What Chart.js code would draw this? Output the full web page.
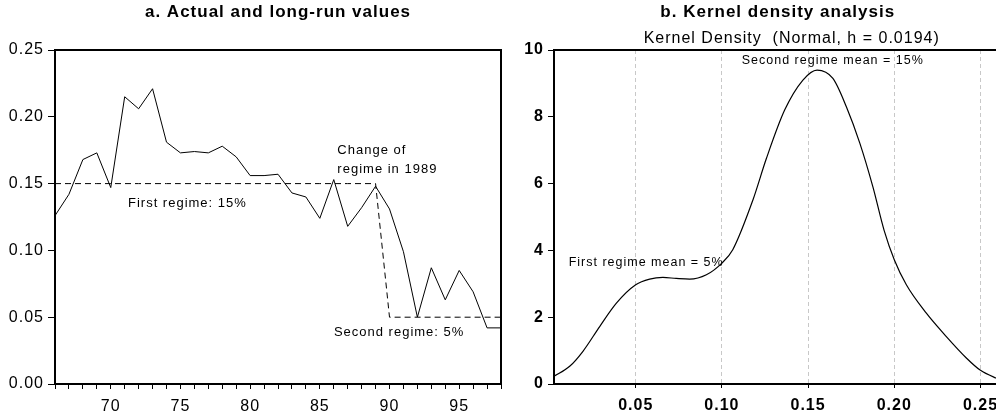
<!DOCTYPE html>
<html>
<head>
<meta charset="utf-8">
<title>Regimes and kernel density</title>
<script src="https://cdn.jsdelivr.net/npm/chart.js@4.4.1/dist/chart.umd.min.js"></script>
<style>
  html, body { margin: 0; padding: 0; background: #fff; overflow: hidden; width: 996px; height: 418px; }
  canvas { position: absolute; top: 0; }
  #chartA { left: 0; }
  #chartB { left: 505px; }
</style>
</head>
<body>
<canvas id="chartA" width="509" height="418"></canvas>
<canvas id="chartB" width="505" height="418"></canvas>
<script>
// ---------- panel a: actual and long-run values ----------
const years = [66, 67, 68, 69, 70, 71, 72, 73, 74, 75, 76, 77, 78, 79, 80, 81, 82,
               83, 84, 85, 86, 87, 88, 89, 90, 91, 92, 93, 94, 95, 96, 97, 98];
const actualValues = [0.126, 0.142, 0.168, 0.173, 0.147, 0.215, 0.206, 0.221, 0.181, 0.173, 0.174,
                      0.173, 0.178, 0.170, 0.156, 0.156, 0.157, 0.143, 0.140, 0.124, 0.153, 0.118,
                      0.132, 0.148, 0.131, 0.099, 0.050, 0.087, 0.063, 0.085, 0.069, 0.042, 0.042];
const regimeValues = [0.15, 0.15, 0.15, 0.15, 0.15, 0.15, 0.15, 0.15, 0.15, 0.15, 0.15,
                      0.15, 0.15, 0.15, 0.15, 0.15, 0.15, 0.15, 0.15, 0.15, 0.15, 0.15,
                      0.15, 0.15, 0.05, 0.05, 0.05, 0.05, 0.05, 0.05, 0.05, 0.05, 0.05];
const rateTicks = [0, 0.05, 0.10, 0.15, 0.20, 0.25];

// ---------- panel b: kernel density ----------
const kdeX = [0.0026, 0.0117, 0.0194, 0.0291, 0.0388, 0.0500, 0.0581, 0.0658, 0.0735, 0.0813,
              0.0910, 0.1000, 0.1063, 0.1180, 0.1258, 0.1364, 0.1470, 0.1552, 0.1644, 0.1722,
              0.1800, 0.1876, 0.1941, 0.2000, 0.2070, 0.2186, 0.2302, 0.2418, 0.2500, 0.2589, 0.2620];
const kdeY = [0.23, 0.53, 0.98, 1.72, 2.42, 2.97, 3.14, 3.19, 3.16, 3.14,
              3.27, 3.62, 4.02, 5.51, 6.75, 8.20, 9.10, 9.40, 9.15, 8.30,
              7.21, 5.90, 4.60, 3.72, 2.97, 2.12, 1.42, 0.78, 0.41, 0.18, 0.12];
const densityTicksX = [0.05, 0.10, 0.15, 0.20, 0.25];
const densityTicksY = [0, 2, 4, 6, 8, 10];

// text notes, anchored in data units
const notesA = [
  { text: 'First regime: 15%', x: 75.5, y: 0.1355, align: 'center' },
  { text: 'Change of', x: 86.26, y: 0.1746 },
  { text: 'regime in 1989', x: 86.26, y: 0.1606 },
  { text: 'Second regime: 5%', x: 90.69, y: 0.0385, align: 'center' }
];
const notesB = [
  { text: 'Kernel Density  (Normal, h = 0.0194)', x: 0.1405, y: 10.33, align: 'center', size: 16 },
  { text: 'Second regime mean = 15%', x: 0.1115, y: 9.67, size: 12.5 },
  { text: 'First regime mean = 5%', x: 0.0111, y: 3.63, size: 12.5 }
];

const FONT = "'Liberation Sans', Arial, sans-serif";
Chart.defaults.font.family = FONT;
Chart.defaults.color = '#000';

// eviews-style wide text
const spacing = {
  id: 'spacing',
  beforeUpdate(chart) { chart.ctx.letterSpacing = '1px'; },
  beforeDraw(chart) { chart.ctx.letterSpacing = '1px'; }
};

// top and right edge of the plot box
const frame = {
  id: 'frame',
  afterDatasetsDraw(chart) {
    const { ctx, chartArea: a } = chart;
    ctx.save();
    ctx.strokeStyle = '#000';
    ctx.lineWidth = 2;
    ctx.beginPath();
    ctx.moveTo(a.left, a.top);
    ctx.lineTo(a.right, a.top);
    ctx.lineTo(a.right, a.bottom);
    ctx.stroke();
    ctx.restore();
  }
};

function makeNotes(items) {
  return {
    id: 'notes',
    afterDraw(chart) {
      const { ctx, scales: { x, y } } = chart;
      ctx.save();
      ctx.fillStyle = '#000';
      ctx.textBaseline = 'middle';
      items.forEach(n => {
        ctx.font = (n.size || 13) + 'px ' + FONT;
        ctx.textAlign = n.align || 'left';
        ctx.fillText(n.text, x.getPixelForValue(n.x), y.getPixelForValue(n.y));
      });
      ctx.restore();
    }
  };
}

const titleOpts = text => ({
  display: true,
  text: text,
  fullSize: false,
  color: '#000',
  font: { size: 17, weight: 'bold' },
  padding: { top: 2, bottom: 27.6 }
});

// ============================================
// PANEL A
// ============================================
new Chart(document.getElementById('chartA'), {
  type: 'line',
  data: {
    datasets: [{
      data: years.map((yr, i) => ({ x: yr, y: actualValues[i] })),
      borderColor: '#000',
      borderWidth: 1,
      pointRadius: 0,
      tension: 0
    }, {
      data: years.map((yr, i) => ({ x: yr, y: regimeValues[i] })),
      borderColor: '#000',
      borderWidth: 1,
      borderDash: [6, 4],
      pointRadius: 0,
      tension: 0
    }]
  },
  options: {
    responsive: false,
    animation: false,
    devicePixelRatio: 1,
    layout: { padding: 0 },
    plugins: {
      legend: { display: false },
      tooltip: { enabled: false },
      title: titleOpts('a. Actual and long-run values')
    },
    scales: {
      x: {
        type: 'linear',
        min: 66,
        max: 98,
        afterBuildTicks: s => { s.ticks = years.map(v => ({ value: v })); },
        afterFit: s => { s.height = 34; },
        ticks: {
          autoSkip: false,
          maxRotation: 0,
          padding: 8,
          font: { size: 16 },
          callback: v => (v % 5 === 0 ? String(v) : '')
        },
        grid: { drawOnChartArea: false, tickLength: 5, tickColor: '#000' },
        border: { color: '#000', width: 2 }
      },
      y: {
        min: 0,
        max: 0.25,
        afterBuildTicks: s => { s.ticks = rateTicks.map(v => ({ value: v })); },
        afterFit: s => { s.width = 55; },
        ticks: { padding: 4, font: { size: 16 }, callback: v => Number(v).toFixed(2) },
        grid: { drawOnChartArea: false, tickLength: 7, tickColor: '#000' },
        border: { color: '#000', width: 2 }
      }
    }
  },
  plugins: [spacing, frame, makeNotes(notesA)]
});

// ============================================
// PANEL B
// ============================================
new Chart(document.getElementById('chartB'), {
  type: 'line',
  data: {
    datasets: [{
      data: kdeX.map((v, i) => ({ x: v, y: kdeY[i] })),
      borderColor: '#000',
      borderWidth: 1.2,
      pointRadius: 0,
      cubicInterpolationMode: 'monotone'
    }]
  },
  options: {
    responsive: false,
    animation: false,
    devicePixelRatio: 1,
    layout: { padding: { left: 0, right: 8.5, top: 0, bottom: 0 } },
    plugins: {
      legend: { display: false },
      tooltip: { enabled: false },
      title: titleOpts('b. Kernel density analysis')
    },
    scales: {
      x: {
        type: 'linear',
        min: 0.0026,
        max: 0.2622,
        afterBuildTicks: s => { s.ticks = densityTicksX.map(v => ({ value: v })); },
        afterFit: s => { s.height = 34; },
        ticks: {
          autoSkip: false,
          maxRotation: 0,
          padding: 8,
          font: { size: 16, weight: 'bold' },
          callback: v => Number(v).toFixed(2)
        },
        grid: { color: '#c8c8c8', lineWidth: 1, tickLength: 4, tickColor: '#000' },
        border: { color: '#000', width: 2, dash: [4, 3] }
      },
      y: {
        min: 0,
        max: 10,
        afterBuildTicks: s => { s.ticks = densityTicksY.map(v => ({ value: v })); },
        afterFit: s => { s.width = 49; },
        ticks: { padding: 4, font: { size: 16, weight: 'bold' } },
        grid: { drawOnChartArea: false, tickLength: 6, tickColor: '#000' },
        border: { color: '#000', width: 2 }
      }
    }
  },
  plugins: [spacing, frame, makeNotes(notesB)]
});
</script>
</body>
</html>
